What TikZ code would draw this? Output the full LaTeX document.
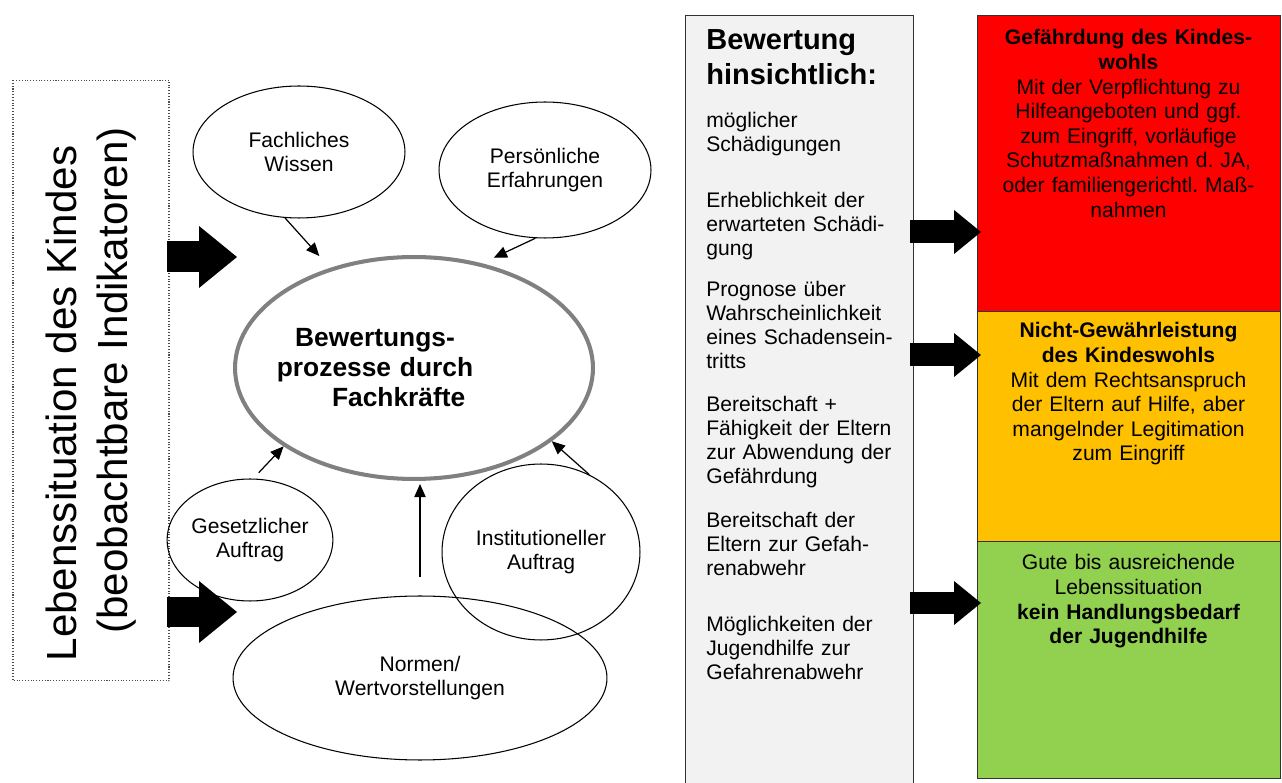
\documentclass[tikz,border=0pt]{standalone}
\usepackage{fontspec}
\setmainfont{Liberation Sans}
\frenchspacing
\usetikzlibrary{arrows.meta, positioning, shapes.geometric}
\definecolor{ampelrot}{RGB}{255,0,0}
\definecolor{ampelgelb}{RGB}{255,192,0}
\definecolor{ampelgruen}{RGB}{146,208,80}
\definecolor{kastengrau}{RGB}{242,242,242}
\definecolor{randgrau}{RGB}{128,128,128}
\tikzset{
  oval/.style       = {ellipse, draw, line width=0.6pt, align=center, inner sep=0pt,
                       font=\fontsize{12}{14}\selectfont},
  hauptoval/.style  = {ellipse, draw=randgrau, line width=2.3pt,
                       minimum width=7.16cm, minimum height=4.44cm},
  haupttext/.style  = {anchor=base, align=center, text width=4.4cm, inner sep=0pt,
                       font=\fontsize{15}{17}\selectfont\bfseries},
  lebenbox/.style   = {draw=black!70, densely dotted, line width=0.6pt, rotate=90,
                       minimum width=12.02cm, minimum height=3.12cm, align=center,
                       inner sep=0pt, font=\fontsize{24}{29}\selectfont},
  pfeil/.style      = {-{Triangle[length=7.5pt,width=6.5pt]}, line width=0.7pt},
  blockpfeil/.style = {line width=0.62cm, -{Triangle[length=0.76cm,width=1.24cm,line width=0pt]}},
  kleinpfeil/.style = {line width=0.46cm, -{Triangle[length=0.54cm,width=0.88cm,line width=0pt]}},
  graukasten/.style = {draw=black!80, fill=kastengrau, line width=0.7pt, anchor=north west,
                       minimum width=4.56cm, minimum height=16cm, inner sep=0pt},
  ampel/.style      = {draw=black!80, line width=0.6pt, anchor=north west,
                       minimum width=6.06cm, inner sep=0pt},
  ampeltext/.style  = {anchor=base, align=center, text width=5.9cm, inner sep=0pt,
                       font=\fontsize{12}{14}\selectfont},
  punkt/.style      = {anchor=base west, align=left, text width=4.1cm, inner sep=0pt,
                       font=\fontsize{12}{13.5}\selectfont},
}

\begin{document}
\begin{tikzpicture}[x=0.02cm, y=-0.02cm]
  \useasboundingbox (0,0) rectangle (1282,783);

  % linke Spalte
  \node[lebenbox] (leben) at (91,380.5)
    {Lebenssituation des Kindes\hspace*{0.92cm}\\(beobachtbare Indikatoren)};
  \coordinate (la1) at (167,257);
  \coordinate (lb1) at (237,257);
  \coordinate (la2) at (167,612);
  \coordinate (lb2) at (237,612);
  \draw[blockpfeil] (la1) -- (lb1);
  \draw[blockpfeil] (la2) -- (lb2);

  % Ovale um den Bewertungsprozess
  \node[hauptoval] (main) at (414,368) {};
  \node[haupttext] (maintext) at (375,347)
    {Bewertungs-\\prozesse durch\\\hspace*{1.8em}Fachkräfte};
  \node[oval, minimum width=4.24cm, minimum height=2.64cm] (wissen) at (299,152) {Fachliches\\Wissen};
  \node[oval, minimum width=4.24cm, minimum height=2.72cm] (erfahrung) at (545,170) {Persönliche\\Erfahrungen};
  \node[oval, minimum width=3.2cm, minimum height=2.44cm] (gesetz) at (250,540) {Gesetzlicher\\Auftrag};
  \node[oval, minimum width=3.96cm, minimum height=3.52cm] (institut) at (541,552) {Institutioneller\\Auftrag};
  \node[oval, minimum width=7.48cm, minimum height=3.28cm] (normen) at (420,678) {Normen/\\Wertvorstellungen};

  \draw[pfeil, shorten >=0.32cm] (wissen.-102) -- (main.130);
  \draw[pfeil, shorten >=0.26cm] (erfahrung.-98) -- (main.57);
  \draw[pfeil, shorten <=0.16cm] (gesetz.87) -- (main.-149);
  \draw[pfeil, shorten <=0.36cm, shorten >=0.06cm] (normen.north) -- (normen.north |- main.south);
  \draw[pfeil] (institut.58) -- (main.-28);

  % Bewertungskriterien
  \node[graukasten] (bewertung) at (685,15) {};
  \node[punkt, font=\fontsize{16.5}{19.9}\selectfont\bfseries] (titel) at (706,50)
    {Bewertung\\hinsichtlich:};
  \node[punkt] (k1) at (706,128) {möglicher\\Schädigungen};
  \node[punkt] (k2) at (706,208) {Erheblichkeit der\\erwarteten Schädi-\\gung};
  \node[punkt] (k3) at (706,297) {Prognose über\\Wahrscheinlichkeit\\eines Schadensein-\\tritts};
  \node[punkt] (k4) at (706,412) {Bereitschaft +\\Fähigkeit der Eltern\\zur Abwendung der\\Gefährdung};
  \node[punkt] (k5) at (706,528) {Bereitschaft der\\Eltern zur Gefah-\\renabwehr};
  \node[punkt] (k6) at (706,632) {Möglichkeiten der\\Jugendhilfe zur\\Gefahrenabwehr};

  % Ampel
  \node[ampel, fill=ampelrot, minimum height=5.92cm] (rot) at (977,15) {};
  \node[ampel, fill=ampelgelb, minimum height=4.6cm] (gelb) at (977,311) {};
  \node[ampel, fill=ampelgruen, minimum height=4.74cm] (gruen) at (977,541) {};
  \node[ampeltext] (rottext) at (1128.5,45)
    {\textbf{Gefährdung des Kindes-}\\\textbf{wohls}\\Mit der Verpflichtung zu\\Hilfeangeboten und ggf.\\zum Eingriff, vorläufige\\Schutzmaßnahmen d. JA,\\oder familiengerichtl. Maß-\\nahmen};
  \node[ampeltext] (gelbtext) at (1128.5,338)
    {\textbf{Nicht-Gewährleistung}\\\textbf{des Kindeswohls}\\Mit dem Rechtsanspruch\\der Eltern auf Hilfe, aber\\mangelnder Legitimation\\zum Eingriff};
  \node[ampeltext] (gruentext) at (1128.5,570)
    {Gute bis ausreichende\\Lebenssituation\\\textbf{kein Handlungsbedarf}\\\textbf{der Jugendhilfe}};

  \foreach \y/\n in {232/a, 355/b, 603/c} {
    \coordinate (ra\n) at (910,\y);
    \coordinate (rb\n) at (981,\y);
    \draw[kleinpfeil] (ra\n) -- (rb\n);
  }
\end{tikzpicture}
\end{document}
